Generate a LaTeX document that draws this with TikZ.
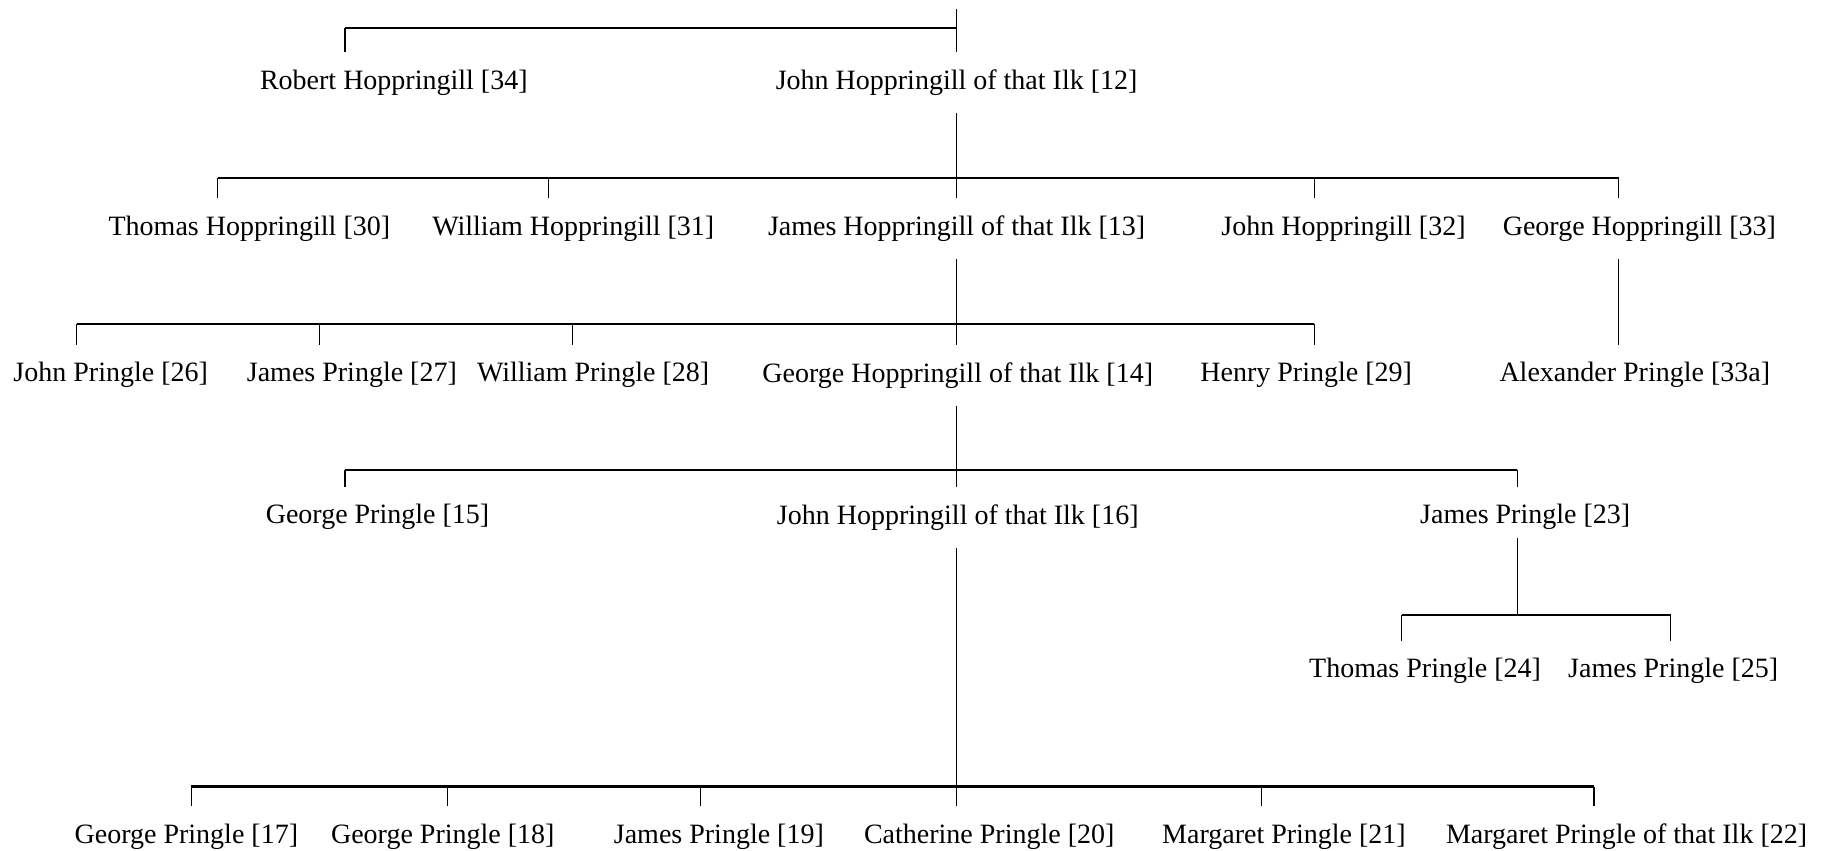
\documentclass[tikz,border=0pt]{standalone}
\usepackage{fontspec}
\setmainfont{Liberation Serif}
\begin{document}
\begin{tikzpicture}[x=0.5pt,y=-0.5pt,
  lbl/.style={font=\fontsize{14}{16}\selectfont, inner sep=0pt, minimum height=30pt, anchor=center},
  bar/.style={line width=1.1pt},
  tick/.style={line width=0.55pt}]
\useasboundingbox (0,0) rectangle (1827,851);
% Row 1
\coordinate (top) at (956.6,9.3);
\coordinate (b1l) at (345,28);
\coordinate (b1c) at (956.6,28);
\node[lbl] (n34) at (393.8,82.7) {Robert Hoppringill [34]};
\node[lbl] (n12) at (956.6,82.7) {John Hoppringill of that Ilk [12]};
\draw[tick] (top) -- (b1c);
\draw[bar] (b1l) -- (b1c);
\draw[tick] (b1l) -- (b1l |- n34.north);
\draw[tick] (b1c) -- (n12.north);
% Row 2
\coordinate (b2a) at (217.9,178.3);
\coordinate (b2b) at (548.8,178.3);
\coordinate (b2c) at (956.6,178.3);
\coordinate (b2d) at (1314.3,178.3);
\coordinate (b2e) at (1618.5,178.3);
\node[lbl] (n30) at (249.4,228.4) {Thomas Hoppringill [30]};
\node[lbl] (n31) at (573.3,228.4) {William Hoppringill [31]};
\node[lbl] (n13) at (956.6,228.4) {James Hoppringill of that Ilk [13]};
\node[lbl] (n32) at (1343.5,228.4) {John Hoppringill [32]};
\node[lbl] (n33) at (1639.4,228.4) {George Hoppringill [33]};
\draw[tick] (n12.south) -- (b2c);
\draw[bar] (b2a) -- (b2e);
\foreach \b/\n in {b2a/n30,b2b/n31,b2c/n13,b2d/n32,b2e/n33}
  \draw[tick] (\b) -- (\b |- \n.north);
% Row 3
\coordinate (b3a) at (76.9,323.9);
\coordinate (b3b) at (319.3,323.9);
\coordinate (b3c) at (572.1,323.9);
\coordinate (b3d) at (956.6,323.9);
\coordinate (b3e) at (1314.3,323.9);
\node[lbl] (n26) at (110.7,375.2) {John Pringle [26]};
\node[lbl] (n27) at (351.9,375.2) {James Pringle [27]};
\node[lbl] (n28) at (593.1,375.2) {William Pringle [28]};
\node[lbl] (n14) at (957.8,375.2) {George Hoppringill of that Ilk [14]};
\node[lbl] (n29) at (1306.2,375.2) {Henry Pringle [29]};
\node[lbl] (n33a) at (1634.8,375.2) {Alexander Pringle [33a]};
\draw[tick] (n13.south) -- (b3d);
\draw[bar] (b3a) -- (b3e);
\foreach \b/\n in {b3a/n26,b3b/n27,b3c/n28,b3d/n14,b3e/n29}
  \draw[tick] (\b) -- (\b |- \n.north);
\draw[tick] (b2e |- n33.south) -- (b2e |- n33a.north);
% Row 4
\coordinate (b4a) at (345,469.6);
\coordinate (b4b) at (956.6,469.6);
\coordinate (b4c) at (1517.1,469.6);
\node[lbl] (n15) at (377.5,517.3) {George Pringle [15]};
\node[lbl] (n16) at (957.8,517.3) {John Hoppringill of that Ilk [16]};
\node[lbl] (n23) at (1525.2,517.3) {James Pringle [23]};
\draw[tick] (n14.south -| b4b) -- (b4b);
\draw[bar] (b4a) -- (b4c);
\foreach \b/\n in {b4a/n15,b4b/n16,b4c/n23}
  \draw[tick] (\b) -- (\b |- \n.north);
% Row 5
\coordinate (b5a) at (1401.7,615.2);
\coordinate (b5b) at (1517.1,615.2);
\coordinate (b5c) at (1670.9,615.2);
\node[lbl] (n24) at (1425,671.2) {Thomas Pringle [24]};
\node[lbl] (n25) at (1673.2,671.2) {James Pringle [25]};
\draw[tick] ([yshift=5pt]b5b |- n23.south) -- (b5b);
\draw[bar] (b5a) -- (b5c);
\foreach \b/\n in {b5a/n24,b5c/n25}
  \draw[tick] (\b) -- (\b |- \n.north);
% Row 6
\coordinate (b6a) at (191.1,786.5);
\coordinate (b6b) at (447.4,786.5);
\coordinate (b6c) at (700.3,786.5);
\coordinate (b6d) at (956.6,786.5);
\coordinate (b6e) at (1261.9,786.5);
\coordinate (b6f) at (1594,786.5);
\node[lbl] (n17) at (186.4,836.5) {George Pringle [17]};
\node[lbl] (n18) at (442.8,836.5) {George Pringle [18]};
\node[lbl] (n19) at (718.9,836.5) {James Pringle [19]};
\node[lbl] (n20) at (989.2,836.5) {Catherine Pringle [20]};
\node[lbl] (n21) at (1284,836.5) {Margaret Pringle [21]};
\node[lbl] (n22) at (1626.6,836.5) {Margaret Pringle of that Ilk [22]};
\draw[tick] (b6d |- n16.south) -- (b6d);
\draw[bar] (b6a) -- (b6f);
\foreach \b/\n in {b6a/n17,b6b/n18,b6c/n19,b6d/n20,b6e/n21,b6f/n22}
  \draw[tick] (\b) -- (\b |- \n.north);
\end{tikzpicture}
\end{document}
